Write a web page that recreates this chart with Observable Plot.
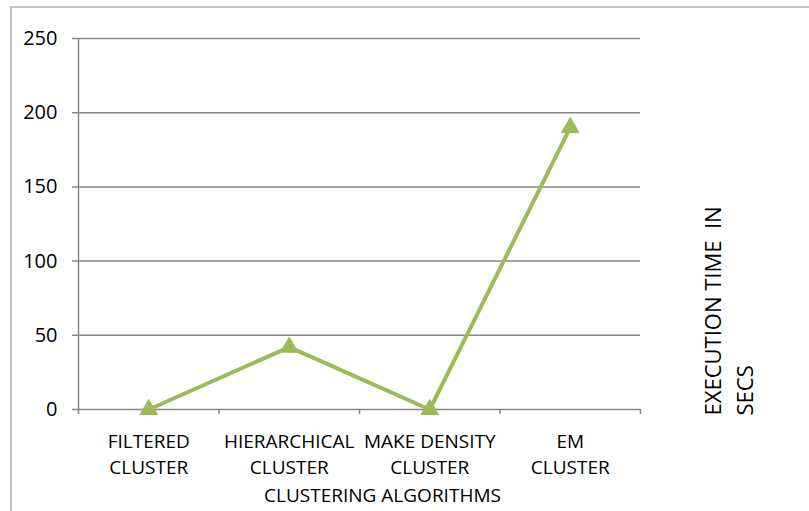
<!DOCTYPE html>
<html>
<head>
<meta charset="utf-8">
<script src="https://cdn.jsdelivr.net/npm/d3@7"></script>
<script src="https://cdn.jsdelivr.net/npm/@observablehq/plot@0.6"></script>
<style>
  html, body { margin: 0; padding: 0; background: #fff; overflow: hidden; }
  #wrap { position: relative; width: 809px; height: 511px; }
  #border { position: absolute; left: 10px; top: 6px; width: 900px; height: 600px; border: 2px solid #c4c4c4; box-sizing: border-box; pointer-events: none; }
  #chart { position: absolute; left: 0; top: 0; }
  #chart text { white-space: pre; }
  #chart g[aria-label="y-axis tick label"] { font-size: 20px; }
</style>
</head>
<body>
<div id="wrap"><div id="border"></div><div id="chart"></div></div>
<script>
const categories = ["FILTERED\nCLUSTER", "HIERARCHICAL\nCLUSTER", "MAKE DENSITY\nCLUSTER", "EM\nCLUSTER"];
const values = [0, 42, 0, 190];
const yTicks = [0, 50, 100, 150, 200, 250];
const seriesName = "EXECUTION TIME  IN\nSECS";
const xTitle = "CLUSTERING ALGORITHMS";

const data = categories.map((c, i) => ({cat: c, pos: i + 0.5, value: values[i]}));
const boundaries = d3.range(categories.length + 1);
const green = "#9bbb59";
const font = "'Open Sans', sans-serif";

const chart = Plot.plot({
  width: 809,
  height: 511,
  marginLeft: 78,
  marginRight: 169,
  marginTop: 38,
  marginBottom: 102,
  style: {fontFamily: font, fontSize: "19px", color: "#000", background: "transparent"},
  x: {type: "linear", domain: [0, categories.length]},
  y: {domain: [0, 250]},
  marks: [
    Plot.ruleY(yTicks, {stroke: "#868686", strokeWidth: 1.5, insetLeft: -6}),
    Plot.ruleX([0], {stroke: "#868686", strokeWidth: 1.5}),
    Plot.axisY({ticks: yTicks, tickSize: 0, tickPadding: 21, label: null, fill: "#000"}),
    Plot.axisX({ticks: boundaries, tickSize: 5, tickFormat: () => "", label: null, stroke: "#868686", strokeWidth: 1.5}),
    Plot.axisX({
      ticks: data.map(d => d.pos),
      tickFormat: (v) => categories[Math.floor(v)],
      tickSize: 0,
      tickPadding: 20,
      lineHeight: 1.38,
      fill: "#000",
      label: null
    }),
    Plot.text([xTitle], {
      frameAnchor: "bottom",
      text: d => d,
      lineAnchor: "middle",
      dx: 23,
      dy: 86,
      fill: "#000"
    }),
    Plot.line(data, {x: "pos", y: "value", stroke: green, strokeWidth: 4}),
    Plot.dot(data, {x: "pos", y: "value", symbol: "triangle", r: 6.5, fill: green, stroke: green, strokeWidth: 1}),
    Plot.text([seriesName], {
      frameAnchor: "bottom-right",
      text: d => d,
      rotate: -90,
      textAnchor: "start",
      lineAnchor: "middle",
      lineHeight: 1.45,
      dx: 86,
      dy: 6,
      fontSize: 22,
      fill: "#000"
    })
  ]
});
document.getElementById("chart").appendChild(chart);
</script>
</body>
</html>
